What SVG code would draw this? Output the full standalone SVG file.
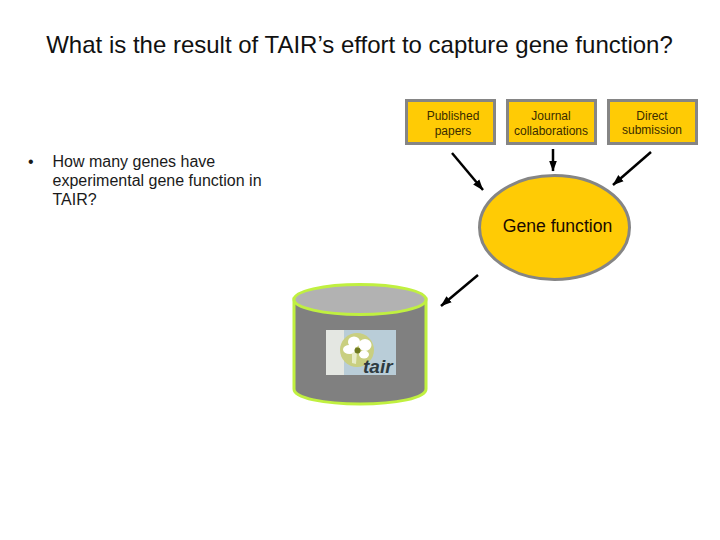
<svg xmlns="http://www.w3.org/2000/svg" width="720" height="540" viewBox="0 0 720 540">
<style>
text{font-family:"Liberation Sans",Arial,sans-serif}
.box{fill:#ffcb05;stroke:#858585;stroke-width:3}
.small{font-size:12px;text-anchor:middle;fill:#3a2c00}
.body{font-size:16px;fill:#1a1a1a}
.conn{stroke:#000;stroke-width:2.5;fill:none;marker-end:url(#ah)}
</style>
<defs>
<marker id="ah" markerUnits="userSpaceOnUse" markerWidth="11" markerHeight="9" refX="10.500" refY="4.500" orient="auto">
<path d="M0 0.500L11 4.500L0 8.500Z" fill="#000"/>
</marker>
</defs>
<rect width="720" height="540" fill="#fff"/>
<text id="title" x="359.500" y="53" font-size="24" text-anchor="middle" fill="#111">What is the result of TAIR’s effort to capture gene function?</text>
<g id="bullet">
<text class="body" x="28" y="167">•</text>
<text class="body" x="52.500" y="167">How many genes have</text>
<text class="body" x="52.500" y="186">experimental gene function in</text>
<text class="body" x="52.500" y="205">TAIR?</text>
</g>
<g id="published">
<rect class="box" x="406.500" y="100.500" width="88" height="43"/>
<text class="small" x="453" y="120">Published</text>
<text class="small" x="453" y="135">papers</text>
</g>
<g id="journal">
<rect class="box" x="507.500" y="100.500" width="88" height="43"/>
<text class="small" x="551" y="120">Journal</text>
<text class="small" x="551" y="135">collaborations</text>
</g>
<g id="direct">
<rect class="box" x="608.500" y="100.500" width="88" height="43"/>
<text class="small" x="652" y="120">Direct</text>
<text class="small" x="652" y="134">submission</text>
</g>
<g id="gene-function">
<ellipse cx="554.500" cy="227.500" rx="75" ry="52" fill="#ffcb05" stroke="#858585" stroke-width="3"/>
<text x="557.500" y="232" font-size="17.600" text-anchor="middle" fill="#1a0a00">Gene function</text>
</g>
<g id="database">
<path d="M294 299V389C294 398 324 404 360 404C396 404 426 398 426 389V299Z" fill="#808080" stroke="#c0f040" stroke-width="3"/>
<ellipse cx="360" cy="299.500" rx="66" ry="15" fill="#b2b2b2" stroke="#c0f040" stroke-width="3"/>
<g id="logo">
<rect x="326" y="330" width="70" height="45" fill="#b9cdd8"/>
<rect x="326" y="330" width="18" height="45" fill="#e4e7e2"/>
<circle cx="357" cy="350" r="17" fill="#c9cf80"/>
<ellipse cx="354" cy="342" rx="6" ry="5.500" fill="#fff"/>
<ellipse cx="365" cy="345" rx="6.500" ry="6" fill="#fff"/>
<ellipse cx="349.500" cy="349.500" rx="6.500" ry="4.500" fill="#fff"/>
<ellipse cx="364" cy="354.500" rx="5" ry="4" fill="#fff"/>
<path d="M352 353L357 351L356 364L352 363Z" fill="#e8ecc8"/>
<circle cx="357.500" cy="350.500" r="3" fill="#6f7a20"/>
<text x="363" y="373" font-size="19" font-weight="bold" font-style="italic" fill="#2e3a40">tair</text>
</g>
</g>
<g id="connectors">
<line class="conn" x1="452" y1="153" x2="483" y2="190"/>
<line class="conn" x1="553" y1="149" x2="553" y2="171"/>
<line class="conn" x1="651" y1="152" x2="613" y2="185"/>
<line class="conn" x1="478" y1="275" x2="441" y2="306"/>
</g>
</svg>
